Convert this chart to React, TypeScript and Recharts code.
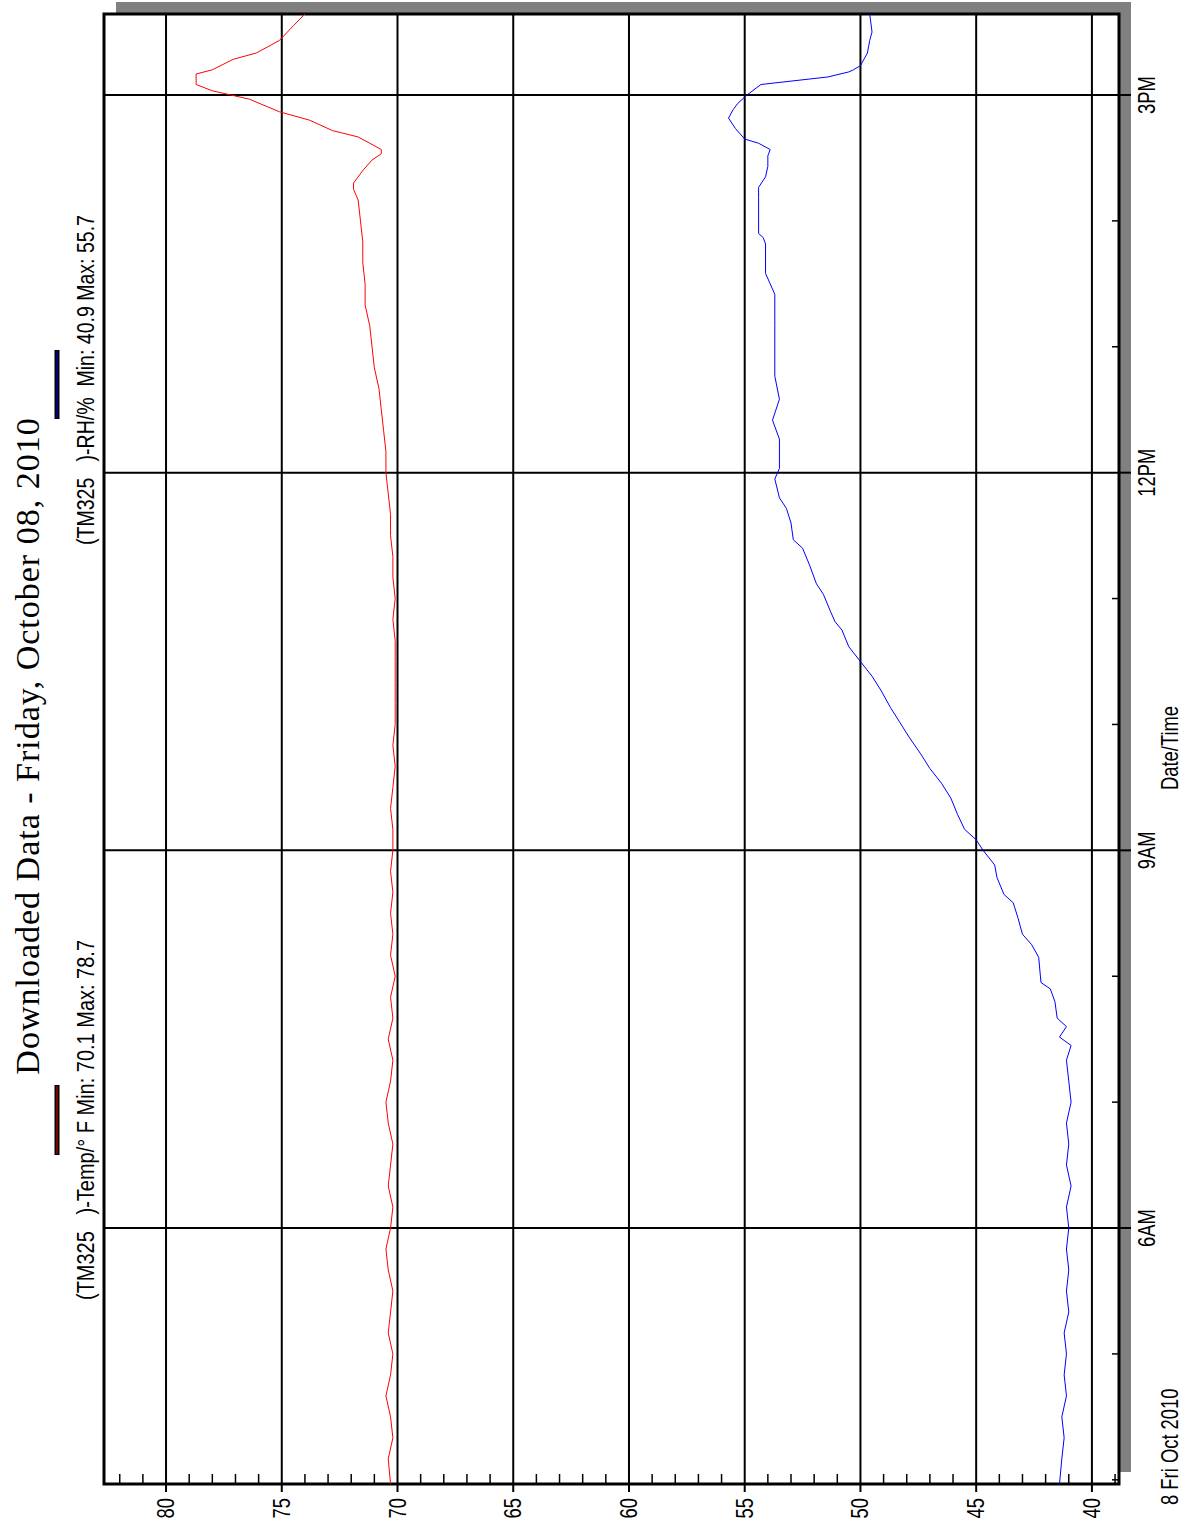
import React from 'react';
import { LineChart, Line, XAxis, YAxis, ReferenceLine } from 'recharts';

// time in minutes after midnight, value
const tempSeries: [number, number][] = [
  [238, 70.3], [250, 70.4], [260, 70.2], [270, 70.3], [280, 70.5], [290, 70.3], [300, 70.2],
  [310, 70.4], [320, 70.3], [330, 70.2], [340, 70.4], [350, 70.5], [360, 70.3], [370, 70.2],
  [380, 70.4], [390, 70.3], [400, 70.2], [410, 70.4], [420, 70.5], [430, 70.3], [440, 70.2],
  [450, 70.4], [460, 70.2], [470, 70.3], [480, 70.1], [490, 70.3], [500, 70.2], [510, 70.3],
  [520, 70.2], [530, 70.3], [540, 70.2], [550, 70.2], [560, 70.3], [570, 70.2], [580, 70.1],
  [590, 70.2], [600, 70.1], [610, 70.1], [620, 70.1], [630, 70.1], [640, 70.1], [650, 70.2],
  [660, 70.1], [670, 70.2], [680, 70.2], [690, 70.3], [700, 70.3], [710, 70.4], [720, 70.5],
  [730, 70.5], [740, 70.6], [750, 70.7], [760, 70.8], [770, 71.0], [780, 71.1], [790, 71.2],
  [800, 71.4], [810, 71.4], [820, 71.5], [830, 71.5], [840, 71.6], [850, 71.7], [855, 71.9],
  [858, 71.9], [864, 71.5], [869, 71.1], [872, 70.7], [874, 70.7], [877, 71.2], [880, 71.7],
  [883, 72.8], [888, 73.8], [892, 75.1], [898, 76.4], [900, 77.2], [902, 78.0], [905, 78.7],
  [910, 78.7], [912, 78.0], [917, 77.1], [920, 76.1], [923, 75.6], [926, 75.1], [933, 74.5],
  [938.6, 74.0],
];

const rhSeries: [number, number][] = [
  [238, 41.4], [250, 41.3], [260, 41.2], [270, 41.3], [280, 41.1], [290, 41.2], [300, 41.1],
  [310, 41.2], [320, 41.0], [330, 41.1], [340, 41.0], [350, 41.1], [360, 41.0], [370, 41.1],
  [380, 40.9], [390, 41.1], [400, 41.0], [410, 41.1], [420, 40.9], [430, 41.0], [440, 41.1],
  [447, 40.9], [451, 41.4], [456, 41.1], [460, 41.5], [468, 41.6], [474, 41.8], [477, 42.2],
  [489, 42.3], [495, 42.6], [500, 43.0], [508, 43.2], [515, 43.4], [519, 43.8], [527, 44.1],
  [533, 44.2], [540, 44.7], [545, 45.0], [550, 45.5], [557, 45.8], [565, 46.1], [572, 46.5],
  [579, 47.0], [586, 47.4], [594, 47.9], [601, 48.3], [608, 48.7], [616, 49.1], [623, 49.5],
  [630, 50.0], [637, 50.5], [645, 50.8], [649, 51.1], [654, 51.3], [662, 51.6], [667, 51.9],
  [676, 52.2], [684, 52.5], [688, 52.9], [696, 53.0], [703, 53.2], [708, 53.5], [717, 53.7],
  [722, 53.5], [736, 53.5], [745, 53.8], [755, 53.5], [766, 53.7], [790, 53.7], [805, 53.7],
  [810, 53.9], [815, 54.1], [829, 54.1], [832, 54.2], [834, 54.4], [851, 54.4], [856, 54.4],
  [861, 54.1], [866, 54.0], [871, 54.0], [874, 53.9], [877, 54.4], [879, 55.0], [884, 55.4],
  [889, 55.7], [893, 55.5], [896, 55.3], [900, 54.9], [905, 54.3], [908.6, 51.4], [911, 50.5],
  [912, 50.3], [914, 50.0], [920, 49.7], [926, 49.6], [930, 49.5], [938.6, 49.6],
];

const timeTicks = [240, 300, 360, 420, 480, 540, 600, 660, 720, 780, 840, 900];
const timeLabels: Record<number, string> = { 360: '6AM', 540: '9AM', 720: '12PM', 900: '3PM' };
const majorTimes = [360, 540, 720, 900];
const valueTicks = Array.from({ length: 44 }, (_, i) => 39 + i); // 39..82 every unit
const majorValues = [40, 45, 50, 55, 60, 65, 70, 75, 80];

const W = 1526;
const H = 1186;
const SANS = "'Liberation Sans', Arial, sans-serif";

const tempData = tempSeries.map(([t, v]) => ({ t, v }));
const rhData = rhSeries.map(([t, v]) => ({ t, v }));

// condensed-looking text: regular sans squeezed horizontally
const NText = ({ x, y, anchor = 'start', children }: any) => (
  <text
    transform={`translate(${x},${y}) scale(0.8,1)`}
    textAnchor={anchor}
    fontSize={23}
    fontFamily={SANS}
    fill="#000"
    style={{ whiteSpace: 'pre' }}
  >
    {children}
  </text>
);

const TimeTick = (props: any) => {
  const { x, y, payload } = props;
  const label = timeLabels[payload.value];
  return (
    <g>
      {label ? (
        <line x1={x} x2={x} y1={y} y2={y + 12} stroke="#000" strokeWidth={2} />
      ) : (
        <line x1={x} x2={x} y1={y - 7} y2={y} stroke="#000" strokeWidth={1.5} />
      )}
      {label && <NText x={x} y={y + 36} anchor="middle">{label}</NText>}
    </g>
  );
};

const ValueTick = (props: any) => {
  const { x, y, payload } = props;
  const major = payload.value % 5 === 0;
  return (
    <g>
      {major ? (
        <line x1={x - 8} x2={x} y1={y} y2={y} stroke="#000" strokeWidth={2} />
      ) : (
        <line x1={x} x2={x + 10} y1={y} y2={y} stroke="#000" strokeWidth={1.5} />
      )}
      {major && <NText x={x - 14} y={y + 8} anchor="end">{payload.value}</NText>}
    </g>
  );
};

export default function App() {
  return (
    <div
      style={{
        position: 'absolute',
        left: 0,
        top: W,
        width: W,
        height: H,
        transformOrigin: '0 0',
        transform: 'rotate(-90deg)',
        background: '#fff',
      }}
    >
      {/* frame + drop shadow */}
      <svg width={W} height={H} style={{ position: 'absolute', left: 0, top: 0 }}>
        <rect x={54} y={116} width={1470} height={1015} fill="#808080" />
        <rect x={42} y={104} width={1470} height={1015} fill="#fff" stroke="#000" strokeWidth={3} />
      </svg>

      <div style={{ position: 'absolute', left: 0, top: 0 }}>
        <LineChart width={W} height={H} data={tempData} margin={{ top: 104, right: 14, bottom: 0, left: 0 }}>
          <XAxis
            dataKey="t"
            type="number"
            domain={[238, 938.6]}
            ticks={timeTicks}
            interval={0}
            height={67}
            tickSize={0}
            tickMargin={0}
            axisLine={false}
            tickLine={false}
            tick={<TimeTick />}
            allowDataOverflow
          />
          <YAxis
            type="number"
            domain={[38.83, 82.68]}
            ticks={valueTicks}
            interval={0}
            width={42}
            tickSize={0}
            tickMargin={0}
            axisLine={false}
            tickLine={false}
            tick={<ValueTick />}
            allowDataOverflow
          />
          {majorTimes.map((m) => (
            <ReferenceLine key={'t' + m} x={m} stroke="#000" strokeWidth={2} />
          ))}
          {majorValues.map((v) => (
            <ReferenceLine key={'v' + v} y={v} stroke="#000" strokeWidth={2} />
          ))}
          <Line data={tempData} dataKey="v" type="linear" stroke="#ff0000" strokeWidth={1} dot={false} isAnimationActive={false} />
          <Line data={rhData} dataKey="v" type="linear" stroke="#0000ff" strokeWidth={1} dot={false} isAnimationActive={false} />
        </LineChart>
      </div>

      {/* titles and legend */}
      <svg width={W} height={H} style={{ position: 'absolute', left: 0, top: 0, pointerEvents: 'none' }}>
        <text x={780} y={39} textAnchor="middle" fontSize={34} fontFamily="'Liberation Serif', 'Times New Roman', serif" letterSpacing={1} fill="#000">
          Downloaded Data - Friday, October 08, 2010
        </text>
        <line x1={371} x2={441} y1={57} y2={57} stroke="#000" strokeWidth={5} />
        <line x1={372} x2={440} y1={57} y2={57} stroke="#ff0000" strokeWidth={1} />
        <line x1={1107} x2={1176} y1={57} y2={57} stroke="#000" strokeWidth={5} />
        <line x1={1108} x2={1175} y1={57} y2={57} stroke="#0000ff" strokeWidth={1} />
        <text x={226} y={94} fontSize={23} fontFamily={SANS} fill="#000" textLength={360} lengthAdjust="spacingAndGlyphs" style={{ whiteSpace: 'pre' }}>
          {'(TM325   )-Temp/° F Min: 70.1 Max: 78.7'}
        </text>
        <text x={981} y={94} fontSize={23} fontFamily={SANS} fill="#000" textLength={330} lengthAdjust="spacingAndGlyphs" style={{ whiteSpace: 'pre' }}>
          {'(TM325   )-RH/%  Min: 40.9 Max: 55.7'}
        </text>
        <NText x={778} y={1178} anchor="middle">Date/Time</NText>
        <NText x={21} y={1178}>8 Fri Oct 2010</NText>
      </svg>
    </div>
  );
}
